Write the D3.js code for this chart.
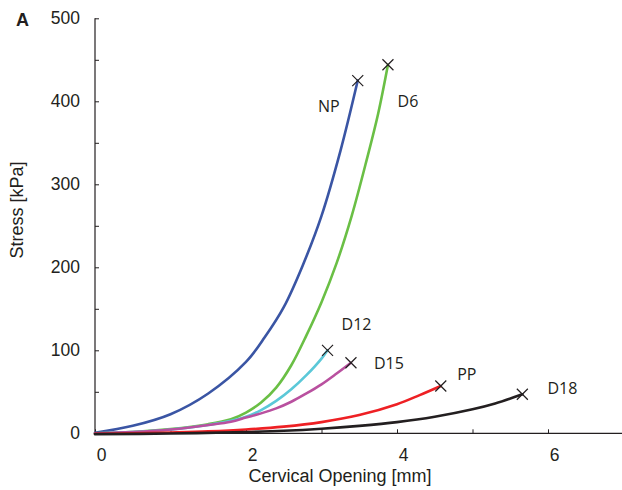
<!DOCTYPE html>
<html>
<head>
<meta charset="utf-8">
<script src="https://cdn.jsdelivr.net/npm/d3@7"></script>
<style>
  html, body { margin: 0; padding: 0; background: #fff; }
  svg { display: block; }
</style>
</head>
<body>
<svg id="chart" width="622" height="490"></svg>
<script>
// ---- data ----
const seriesNames = ["NP", "D6", "D12", "D15", "PP", "D18"];
const npX  = [0, 0.5, 1.0, 1.5, 2.0, 2.25, 2.5, 2.75, 3.0, 3.25, 3.48];
const npY  = [0.5, 9, 23, 48, 86, 116, 152, 202, 262, 340, 425];
const d6X  = [0, 0.5, 1.0, 1.5, 1.8, 2.0, 2.2, 2.4, 2.6, 2.8, 3.0, 3.2, 3.4, 3.6, 3.75, 3.88];
const d6Y  = [0, 1.5, 5, 11, 17, 25, 37, 55, 82, 118, 158, 205, 262, 330, 385, 444];
const d12X = [0, 0.5, 1.0, 1.5, 1.8, 2.0, 2.2, 2.4, 2.6, 2.8, 3.0, 3.08];
const d12Y = [0, 1.5, 4.5, 10, 15, 20, 28, 39, 53, 70, 90, 100];
const d15X = [0, 0.5, 1.0, 1.5, 1.8, 2.0, 2.2, 2.4, 2.6, 2.8, 3.0, 3.2, 3.39];
const d15Y = [0, 1.5, 4.5, 10, 14, 19, 24, 30, 38, 48, 59, 72, 85];
const ppX  = [0, 0.5, 1.0, 1.5, 2.0, 2.5, 3.0, 3.5, 4.0, 4.3, 4.58];
const ppY  = [-0.5, 0, 1, 2.3, 4.5, 8, 13.5, 22, 35, 46, 57];
const d18X = [0, 1.0, 2.0, 2.5, 3.0, 3.5, 4.0, 4.5, 5.0, 5.3, 5.66];
const d18Y = [-1, -0.3, 1.5, 3, 5.5, 9, 13.5, 20, 29, 36, 47];
const xTicks = [0, 1, 2, 3, 4, 5, 6];
const xTickLabels = ["0", "", "2", "", "4", "", "6"];
const yTicks = [0, 50, 100, 150, 200, 250, 300, 350, 400, 450, 500];
const yTickLabels = ["0", "", "100", "", "200", "", "300", "", "400", "", "500"];

const seriesX = [npX, d6X, d12X, d15X, ppX, d18X];
const seriesY = [npY, d6Y, d12Y, d15Y, ppY, d18Y];

// ---- styling ----
const colors = ["#3a55a4", "#6abf45", "#5bc8d8", "#b9509f", "#ee2024", "#231f20"];
const labelOffsets = [[-29, 25], [20, 36], [29, -26], [38, 0], [26, -12], [40, -6]];

const svg = d3.select("#chart");
const x = d3.scaleLinear().domain([0, 6.98]).range([95, 622]);
const y = d3.scaleLinear().domain([0, 500]).range([433.3, 18.3]);

const axisColor = "#231f20";
const tickFont = "'Liberation Sans', Arial, Helvetica, sans-serif";

// x axis
const xAxis = d3.axisBottom(x).tickValues(xTicks).tickSize(-4).tickFormat((d, i) => xTickLabels[i]);
const gx = svg.append("g").attr("transform", `translate(0,${y(0)})`).call(xAxis);
gx.select(".domain").remove();
gx.append("line").attr("x1", x(0)).attr("x2", 622).attr("y1", 0).attr("y2", 0)
  .attr("stroke", axisColor).attr("stroke-width", 1.2);
gx.selectAll(".tick line").attr("stroke", axisColor).attr("stroke-width", 1);
gx.selectAll(".tick text").attr("font-family", tickFont).attr("font-size", 17.5)
  .attr("fill", "#231f20").attr("dx", 6).attr("y", 15);

// y axis
const yAxis = d3.axisLeft(y).tickValues(yTicks).tickSize(-4).tickFormat((d, i) => yTickLabels[i]);
const gy = svg.append("g").attr("transform", `translate(${x(0)},0)`).call(yAxis);
gy.select(".domain").remove();
gy.append("line").attr("x1", 0).attr("x2", 0).attr("y1", y(0)).attr("y2", y(500))
  .attr("stroke", axisColor).attr("stroke-width", 1.2);
gy.selectAll(".tick line").attr("stroke", axisColor).attr("stroke-width", 1);
gy.selectAll(".tick text").attr("font-family", tickFont).attr("font-size", 17.5)
  .attr("fill", "#231f20").attr("x", -15);

// axis titles
svg.append("text").attr("x", 340).attr("y", 482).attr("text-anchor", "middle")
  .attr("font-family", tickFont).attr("font-size", 18).attr("fill", "#231f20")
  .text("Cervical Opening [mm]");
svg.append("text").attr("transform", "translate(23,210) rotate(-90)").attr("text-anchor", "middle")
  .attr("font-family", tickFont).attr("font-size", 18).attr("fill", "#231f20")
  .text("Stress [kPa]");
svg.append("text").attr("x", 16).attr("y", 26)
  .attr("font-family", tickFont).attr("font-size", 18).attr("font-weight", "bold").attr("fill", "#231f20")
  .text("A");

// curves
const line = d3.line().x(d => x(d[0])).y(d => y(d[1])).curve(d3.curveCatmullRom.alpha(0.5));
seriesNames.forEach((name, i) => {
  const pts = seriesX[i].map((v, j) => [v, seriesY[i][j]]);
  svg.append("path").datum(pts).attr("d", line)
    .attr("fill", "none").attr("stroke", colors[i]).attr("stroke-width", 2.6)
    .attr("stroke-linecap", "round");
});

// end markers and labels
seriesNames.forEach((name, i) => {
  const n = seriesX[i].length - 1;
  const cx = x(seriesX[i][n]), cy = y(seriesY[i][n]);
  const s = 5.5;
  svg.append("path")
    .attr("d", `M${cx - s},${cy - s}L${cx + s},${cy + s}M${cx - s},${cy + s}L${cx + s},${cy - s}`)
    .attr("stroke", "#231f20").attr("stroke-width", 1.2).attr("fill", "none");
  svg.append("text")
    .attr("x", cx + labelOffsets[i][0]).attr("y", cy + labelOffsets[i][1])
    .attr("text-anchor", "middle").attr("dominant-baseline", "central")
    .attr("font-family", "'Open Sans', 'Noto Sans', sans-serif").attr("font-size", 16)
    .attr("fill", "#231f20").text(name);
});
</script>
</body>
</html>
